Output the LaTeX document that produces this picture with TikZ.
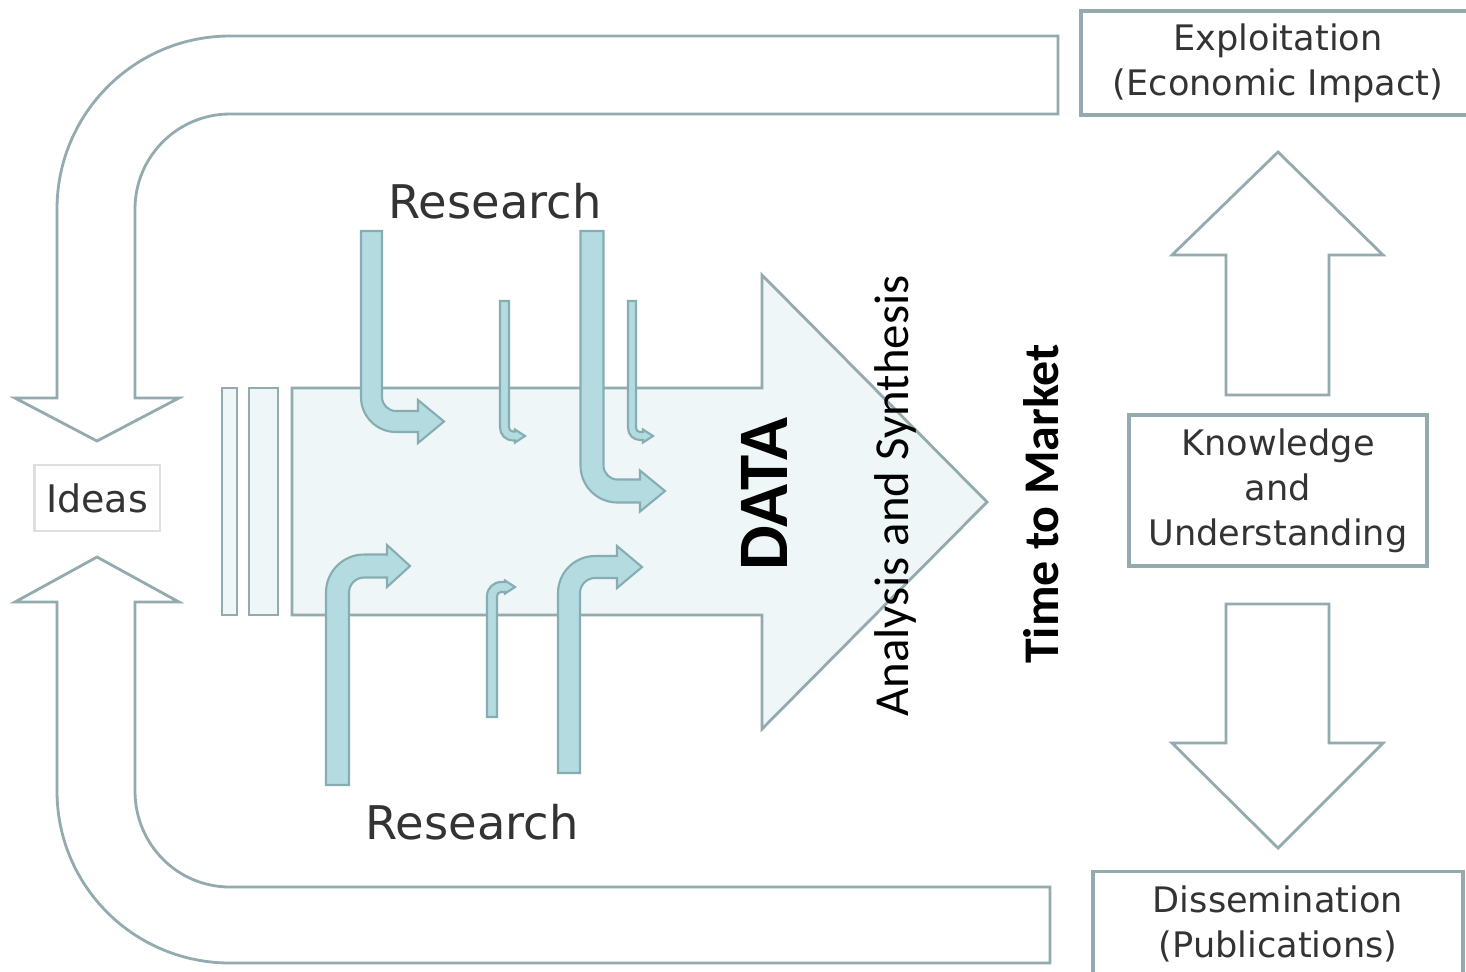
\documentclass[tikz,border=0pt]{standalone}
\usepackage{fontspec}
\setmainfont{DejaVu Sans}
\newfontfamily\calib{Carlito}
\usepackage{xcolor}
\usepackage{tikz}
\usetikzlibrary{positioning}
\definecolor{loopline}{HTML}{93ABAF}
\definecolor{datafill}{HTML}{EEF6F7}
\definecolor{resfill}{HTML}{B4DBDF}
\definecolor{resline}{HTML}{86ADB2}
\definecolor{txtgray}{HTML}{333333}

% bent research arrow: opts, x, bend y, shaft length, tip dist, half shaft, half head, head length, inner radius
\newcommand{\resarrow}[9]{%
  \begin{scope}[shift={(#2,#3)},#1]
    \pgfmathsetmacro\resri{#9}\pgfmathsetmacro\resro{#9+2*#6}
    \pgfmathsetmacro\resqa{0.4477*\resri}\pgfmathsetmacro\resqb{0.4477*\resro}
    \draw[res] (-#6,-#4) -- (#6,-#4) -- (#6,{-#6-\resri})
      .. controls (#6,{-#6-\resqa}) and ({#6+\resqa},-#6) .. ({#6+\resri},-#6)
      -- ({#5-#8},-#6) -- ({#5-#8},-#7) -- (#5,0) -- ({#5-#8},#7) -- ({#5-#8},#6)
      -- ({-#6+\resro},#6) .. controls ({-#6+\resqb},#6) and (-#6,{#6-\resqb}) .. (-#6,{#6-\resro}) -- cycle;
  \end{scope}}

\begin{document}
\begin{tikzpicture}[x=0.1mm,y=-0.1mm,
  loop/.style={draw=loopline,line width=0.8pt,fill=white},
  data/.style={draw=loopline,line width=0.8pt,fill=datafill},
  res/.style={draw=resline,line width=0.6pt,fill=resfill},
  box/.style={draw=loopline,line width=0.9pt,fill=white,align=center,text=txtgray,font=\fontsize{10}{12.8}\selectfont},
  lab/.style={text=txtgray,font=\fontsize{13.2}{16}\selectfont,anchor=base},
  vlab/.style={rotate=90,anchor=base,text=black}]
  \useasboundingbox[fill=white] (0,0) rectangle (1466,971);

  % feedback loops
  \draw[loop] (1058,36) -- (230,36) .. controls (134.5,36) and (57,113.5) .. (57,209) -- (57,398)
    -- (15,398) -- (97,441) -- (179,398) -- (135,398) -- (135,209)
    .. controls (135,156.5) and (177.5,114) .. (230,114) -- (1058,114) -- cycle;
  \draw[loop] (1050,887) -- (230,887) .. controls (177,887) and (135,844) .. (135,791) -- (135,602)
    -- (179,602) -- (97,557) -- (15,602) -- (57,602) -- (57,791)
    .. controls (57,886.5) and (134.5,963) .. (230,963) -- (1050,963) -- cycle;
  \node[box,draw=gray!25,line width=0.6pt,minimum width=12mm,minimum height=6.6mm,
    font=\fontsize{10.8}{13}\selectfont] (ideas) at (97,498) {Ideas};

  % data arrow
  \draw[data] (222,388) rectangle (237,615);
  \draw[data] (249,388) rectangle (278,615);
  \draw[data] (292,388) -- (762,388) -- (762,275) -- (987,502) -- (762,729) -- (762,615) -- (292,615) -- cycle;

  \resarrow{}{371.5}{421.5}{190.5}{72.5}{10.5}{21.5}{26}{14}
  \resarrow{}{504.5}{436}{135}{20.5}{4.5}{6.5}{10}{4}
  \resarrow{}{592}{491}{260}{73}{11.5}{20.5}{25}{14}
  \resarrow{}{632}{436}{135}{21}{4}{6.5}{10}{4}
  \resarrow{yscale=-1}{337.5}{566}{219}{72.5}{11.5}{21}{23}{15}
  \resarrow{yscale=-1}{492}{587}{130}{23}{5}{6.5}{10}{4}
  \resarrow{yscale=-1}{569}{567}{206}{73}{11}{21}{25}{15}

  \node[lab] (restop) at (495,218) {Research};
  \node[lab] (resbot) at (472,839) {Research};
  \node[vlab,font=\calib\bfseries\fontsize{20.2}{23}\selectfont] (datalbl) at (787,494) {DATA};
  \node[vlab,font=\calib\fontsize{13.9}{16}\selectfont] (anal) at (908,496) {Analysis and Synthesis};
  \node[vlab,font=\calib\bfseries\fontsize{14.2}{16}\selectfont] (ttm) at (1058,504) {Time to Market};

  % outcomes
  \node[box,minimum width=39.4mm,minimum height=10.4mm] (expl) at (1278,63) {Exploitation\\(Economic Impact)};
  \node[box,minimum width=29.8mm,minimum height=15.1mm] (know) at (1278,490.5) {Knowledge\\and\\Understanding};
  \node[box,minimum width=37mm,minimum height=10.4mm,anchor=north] (diss) at (1278,870) {Dissemination\\(Publications)};
  \draw[loop] (1226,395) -- (1226,255) -- (1172,255) -- (1278,152) -- (1383,255) -- (1329,255) -- (1329,395) -- cycle;
  \draw[loop] (1226,604) -- (1329,604) -- (1329,743) -- (1383,743) -- (1278,848) -- (1172,743) -- (1226,743) -- cycle;
\end{tikzpicture}
\end{document}
